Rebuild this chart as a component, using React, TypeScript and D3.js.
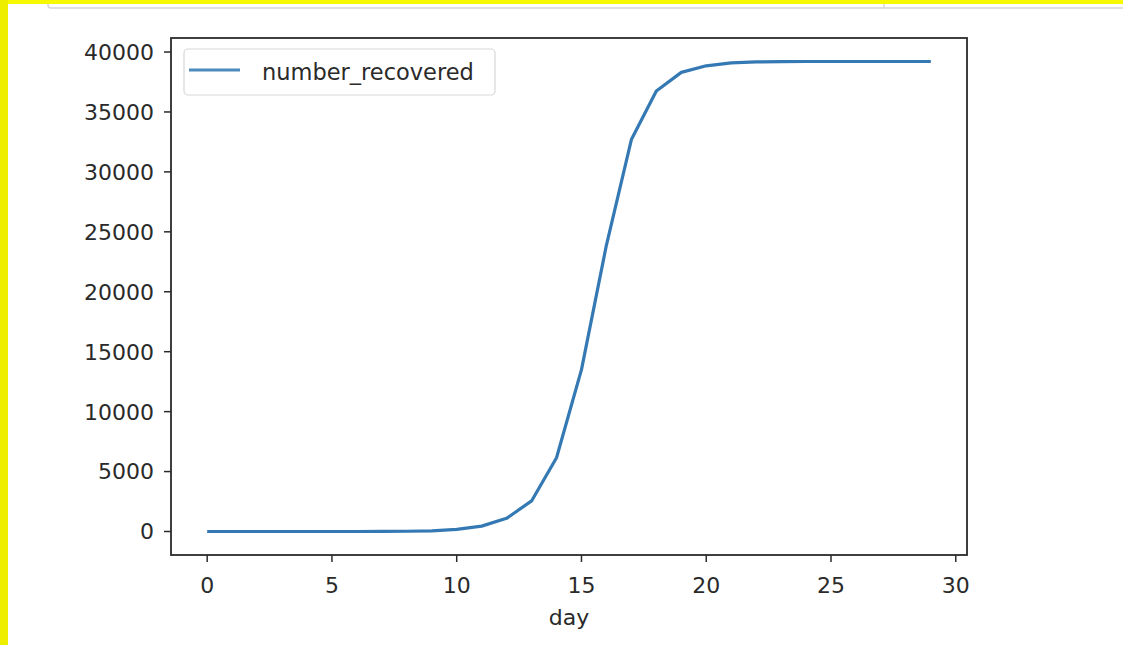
import React from "react";
import * as d3 from "d3";

// Recovered count per day
const days = [0, 1, 2, 3, 4, 5, 6, 7, 8, 9, 10, 11, 12, 13, 14, 15, 16, 17, 18, 19, 20, 21, 22, 23, 24, 25, 26, 27, 28, 29];
const numberRecovered = [
  0, 0, 0, 0, 0, 0, 0, 5, 20, 60, 180, 450, 1100, 2550, 6150, 13500, 23900, 32700, 36750, 38300,
  38850, 39100, 39180, 39200, 39210, 39210, 39210, 39210, 39210, 39210,
];
const xTicks = [0, 5, 10, 15, 20, 25, 30];
const yTicks = [0, 5000, 10000, 15000, 20000, 25000, 30000, 35000, 40000];
const seriesName = "number_recovered";
const xLabel = "day";

const W = 1123;
const H = 645;
const plot = { left: 171, right: 967, top: 38, bottom: 555 };
const FONT = "'DejaVu Sans', sans-serif";
const TEXT = "#2a2a2a";
const LINE = "#3479b3";

export default function App() {
  // matplotlib-style 5% margins around the data range
  const xMin = d3.min(days)!;
  const xMax = d3.max(days)!;
  const xPad = (xMax - xMin) * 0.05;
  const yMin = d3.min(numberRecovered)!;
  const yMax = d3.max(numberRecovered)!;
  const yPad = (yMax - yMin) * 0.05;

  const x = d3.scaleLinear().domain([xMin - xPad, xMax + xPad]).range([plot.left, plot.right]);
  const y = d3.scaleLinear().domain([yMin - yPad, yMax + yPad]).range([plot.bottom, plot.top]);

  const line = d3
    .line<number>()
    .x((_, i) => x(days[i]))
    .y((d) => y(d));

  return (
    <svg
      width={W}
      height={H}
      style={{ position: "fixed", left: 0, top: 0, background: "#fff" }}
      fontFamily={FONT}
    >
      {/* page frame */}
      <rect x={48} y={-12} width={1100} height={20} rx={3} fill="#fff" stroke="#d6d6d6" strokeWidth={1.5} />
      <line x1={884} x2={884} y1={0} y2={8} stroke="#d6d6d6" strokeWidth={1.5} />
      <rect x={0} y={0} width={W} height={4} fill="#f8f800" />
      <rect x={0} y={0} width={8} height={H} fill="#eeee00" />

      {/* data line */}
      <path d={line(numberRecovered) ?? ""} fill="none" stroke={LINE} strokeWidth={3.2} strokeLinejoin="round" />

      {/* axes frame */}
      <rect
        x={plot.left}
        y={plot.top}
        width={plot.right - plot.left}
        height={plot.bottom - plot.top}
        fill="none"
        stroke="#2b2b2b"
        strokeWidth={1.8}
      />

      {/* y axis */}
      {yTicks.map((t) => (
        <g key={`y${t}`}>
          <line x1={plot.left - 7} x2={plot.left} y1={y(t)} y2={y(t)} stroke="#2b2b2b" strokeWidth={1.5} />
          <text x={plot.left - 17} y={y(t)} dy="0.36em" textAnchor="end" fontSize={22} fill={TEXT}>
            {t}
          </text>
        </g>
      ))}

      {/* x axis */}
      {xTicks.map((t) => (
        <g key={`x${t}`}>
          <line x1={x(t)} x2={x(t)} y1={plot.bottom} y2={plot.bottom + 7} stroke="#2b2b2b" strokeWidth={1.5} />
          <text x={x(t)} y={plot.bottom + 38} textAnchor="middle" fontSize={22} fill={TEXT}>
            {t}
          </text>
        </g>
      ))}
      <text x={(plot.left + plot.right) / 2} y={625} textAnchor="middle" fontSize={22} fill={TEXT}>
        {xLabel}
      </text>

      {/* legend */}
      <rect x={184} y={49} width={311} height={46} rx={4} fill="#fff" fillOpacity={0.8} stroke="#d8d8d8" strokeWidth={1.2} />
      <line x1={189} x2={240} y1={70} y2={70} stroke="#4d8bbf" strokeWidth={3.2} />
      <text x={262} y={80} fontSize={22.5} fill={TEXT}>
        {seriesName}
      </text>
    </svg>
  );
}
